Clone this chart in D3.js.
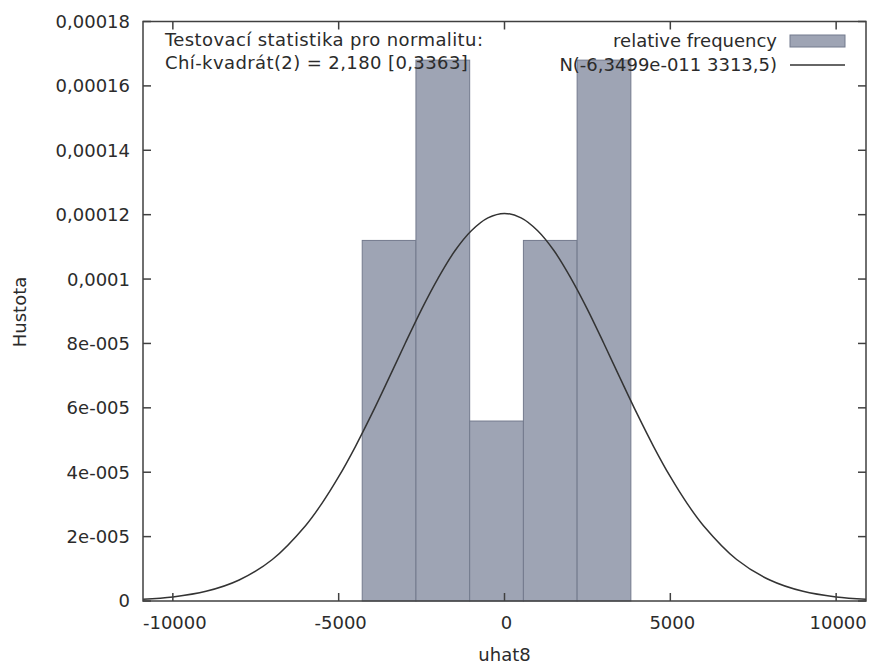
<!DOCTYPE html>
<html>
<head>
<meta charset="utf-8">
<script src="https://cdn.jsdelivr.net/npm/d3@7"></script>
<style>
  body { margin: 0; background: #fff; }
  text { font-family: "DejaVu Sans", Verdana, sans-serif; fill: #2b2b2b; font-size: 18px; }
</style>
</head>
<body>
<div id="chart"></div>
<script>
// bin edges of the histogram (uhat8)
var binEdges = [-4290, -2670, -1050, 570, 2190, 3810];
// relative frequency density of each bin
var binDensity = [0.000112, 0.000168, 0.0000559, 0.000112, 0.000168];

// fitted normal curve
var curveX = [-10900, -10000, -9000, -8000, -7000, -6000, -5500, -5000, -4500, -4000, -3500, -3000, -2500, -2000, -1500, -1000, -500, 0,
              500, 1000, 1500, 2000, 2500, 3000, 3500, 4000, 4500, 5000, 5500, 6000, 7000, 8000, 9000, 10000, 10900];
var curveY = [0.00000054, 0.00000127, 0.00000301, 0.00000653, 0.0000129, 0.0000234, 0.0000304, 0.0000386, 0.0000479, 0.0000581, 0.0000689, 0.0000799, 0.0000906, 0.0001003, 0.0001087, 0.000115, 0.000119, 0.0001204,
              0.000119, 0.000115, 0.0001087, 0.0001003, 0.0000906, 0.0000799, 0.0000689, 0.0000581, 0.0000479, 0.0000386, 0.0000304, 0.0000234, 0.0000129, 0.00000653, 0.00000301, 0.00000127, 0.00000054];

// axis ticks
var xTicks = [-10000, -5000, 0, 5000, 10000];
var yTicks = [0, 0.00002, 0.00004, 0.00006, 0.00008, 0.0001, 0.00012, 0.00014, 0.00016, 0.00018];
var yTickLabels = ["0", "2e-005", "4e-005", "6e-005", "8e-005", "0,0001", "0,00012", "0,00014", "0,00016", "0,00018"];

// texts
var statLines = ["Testovací statistika pro normalitu:", "Chí-kvadrát(2) = 2,180 [0,3363]"];
var legendLabels = ["relative frequency", "N(-6,3499e-011 3313,5)"];
var xTitle = "uhat8";
var yTitle = "Hustota";

var W = 869, H = 664;
var margin = {top: 21.5, right: 3, bottom: 63, left: 143};
var width = W - margin.left - margin.right,
    height = H - margin.top - margin.bottom;

var svg = d3.select("#chart")
  .append("svg")
  .attr("width", W)
  .attr("height", H);

var g = svg.append("g")
  .attr("transform", "translate(" + margin.left + "," + margin.top + ")");

//Scales
var xScale = d3.scaleLinear().domain([-10900, 10900]).range([0, width]);
var yScale = d3.scaleLinear().domain([0, 0.00018]).range([height, 0]);

g.append("clipPath").attr("id", "clip")
  .append("rect").attr("width", width).attr("height", height);

//Bars
var bins = binDensity.map((d, i) => ({x0: binEdges[i], x1: binEdges[i + 1], y: d}));
g.selectAll(".bar")
  .data(bins)
  .enter()
  .append("rect")
  .attr("class", "bar")
  .attr("x", d => xScale(d.x0))
  .attr("width", d => xScale(d.x1) - xScale(d.x0))
  .attr("y", d => yScale(d.y))
  .attr("height", d => height - yScale(d.y))
  .style("fill", "#9ea4b4")
  .style("stroke", "#737a8d")
  .style("stroke-width", 1);

//Normal curve
var line = d3.line()
  .x((d, i) => xScale(curveX[i]))
  .y(d => yScale(d))
  .curve(d3.curveCatmullRom);
g.append("path")
  .attr("d", line(curveY))
  .attr("clip-path", "url(#clip)")
  .style("fill", "none")
  .style("stroke", "#333")
  .style("stroke-width", 1.5);

//Frame with inward ticks on all sides
var frameColor = "#404040";
var tickLen = 8;
var ax = g.append("g");
xTicks.forEach(function(t) {
  var x = xScale(t);
  ax.append("line").attr("x1", x).attr("x2", x).attr("y1", height).attr("y2", height - tickLen);
  ax.append("line").attr("x1", x).attr("x2", x).attr("y1", 0).attr("y2", tickLen);
});
yTicks.forEach(function(t) {
  var y = yScale(t);
  ax.append("line").attr("x1", 0).attr("x2", tickLen).attr("y1", y).attr("y2", y);
  ax.append("line").attr("x1", width).attr("x2", width - tickLen).attr("y1", y).attr("y2", y);
});
ax.append("rect")
  .attr("width", width).attr("height", height)
  .style("fill", "none");
ax.selectAll("line, rect")
  .style("stroke", frameColor)
  .style("stroke-width", 1.5);

//Tick labels
g.selectAll(".xlab")
  .data(xTicks)
  .enter()
  .append("text")
  .attr("x", d => xScale(d) + 2)
  .attr("y", height + 28)
  .style("text-anchor", "middle")
  .text(d => d3.format("d")(d).replace("\u2212", "-"));

g.selectAll(".ylab")
  .data(yTicks)
  .enter()
  .append("text")
  .attr("x", -13)
  .attr("y", d => yScale(d))
  .attr("dy", "0.36em")
  .style("text-anchor", "end")
  .text((d, i) => yTickLabels[i]);

//Axis titles
svg.append("text")
  .attr("x", margin.left + xScale(0))
  .attr("y", 661)
  .style("text-anchor", "middle")
  .text(xTitle);

svg.append("text")
  .attr("transform", "translate(26,312) rotate(-90)")
  .style("text-anchor", "middle")
  .text(yTitle);

//Test statistic
statLines.forEach(function(s, i) {
  svg.append("text")
    .attr("x", 165)
    .attr("y", 46 + i * 23)
    .style("letter-spacing", "0.4px")
    .text(s);
});

//Legend
legendLabels.forEach(function(s, i) {
  svg.append("text")
    .attr("x", 777)
    .attr("y", 47 + i * 24)
    .style("text-anchor", "end")
    .text(s);
});
svg.append("rect")
  .attr("x", 790).attr("y", 35).attr("width", 55).attr("height", 12)
  .style("fill", "#9ea4b4")
  .style("stroke", "#737a8d");
svg.append("line")
  .attr("x1", 790).attr("x2", 845).attr("y1", 65).attr("y2", 65)
  .style("stroke", "#333")
  .style("stroke-width", 1.5);
</script>
</body>
</html>
